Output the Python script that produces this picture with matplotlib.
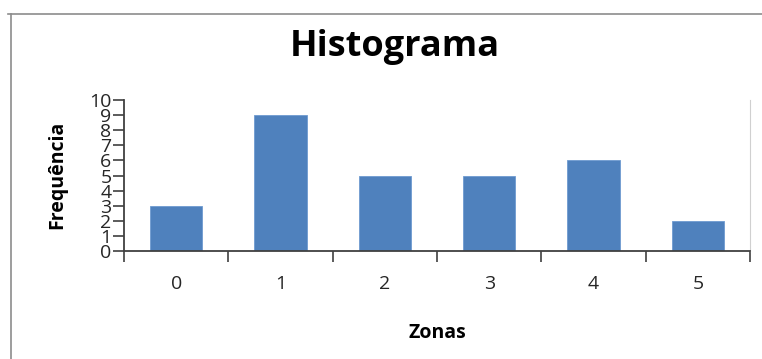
import matplotlib.pyplot as plt
from matplotlib.lines import Line2D

# Data
zonas = [0, 1, 2, 3, 4, 5]
frequencia = [3, 9, 5, 5, 6, 2]
yticks = list(range(0, 11))

plt.rcParams['font.family'] = ['Open Sans', 'DejaVu Sans']

fig = plt.figure(figsize=(7.62, 3.59), dpi=100)
ax = fig.add_axes([0.1627, 0.3008, 0.9843 - 0.1627, 0.7214 - 0.3008])

# Bars centred in each category slot
ax.bar(zonas, frequencia, width=0.5, color='#4F81BD', edgecolor='#6E9AD0', linewidth=0.6, zorder=2)

ax.set_xlim(-0.5, 5.5)
ax.set_ylim(0, 10)
ax.set_yticks(yticks)
ax.set_yticklabels([str(v) for v in yticks], fontsize=14, color='#262626')
ax.tick_params(axis='y', direction='out', length=8, width=1.2, color='#404040', pad=1)

# Category labels in the middle, tick marks on the boundaries
ax.set_xticks(zonas)
ax.set_xticklabels([str(z) for z in zonas], fontsize=14, color='#262626')
ax.tick_params(axis='x', which='major', length=0, pad=17)
ax.set_xticks([z - 0.5 for z in zonas] + [5.5], minor=True)
ax.tick_params(axis='x', which='minor', direction='out', length=8, width=1.2, color='#404040')

for side in ['left', 'bottom']:
    ax.spines[side].set_color('#404040')
    ax.spines[side].set_linewidth(1.3)
ax.spines['top'].set_visible(False)
ax.spines['right'].set_color('#D0D0D0')
ax.spines['right'].set_linewidth(0.8)

fig.text(395 / 762, 1 - 47 / 359, 'Histograma', fontsize=26, fontweight='bold', ha='center', va='center')
ax.set_xlabel('Zonas', fontsize=14, fontweight='bold', labelpad=22)
fig.text(57 / 762, 1 - 175 / 359, 'Frequência', fontsize=14, fontweight='bold', rotation=90, ha='center', va='center')

# Chart area border (top and left edges)
fig.add_artist(Line2D([8 / 762, 1.0], [1 - 14 / 359, 1 - 14 / 359], color='#8C8C8C', linewidth=1.2, transform=fig.transFigure))
fig.add_artist(Line2D([11 / 762, 11 / 762], [0, 1 - 14 / 359], color='#8C8C8C', linewidth=1.2, transform=fig.transFigure))

plt.savefig('out.png', dpi=100)
